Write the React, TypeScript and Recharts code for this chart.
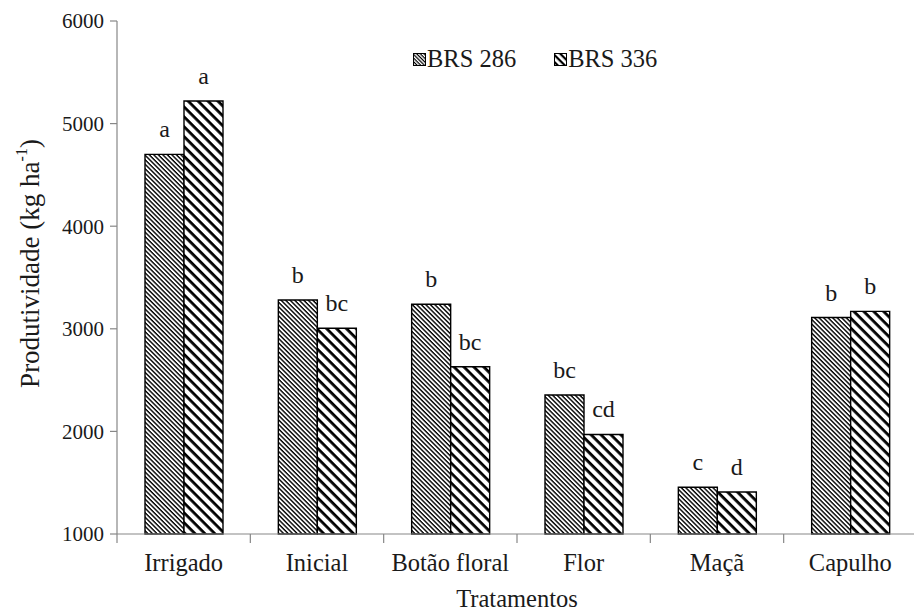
import React from 'react'
import { BarChart, Bar, XAxis, YAxis, Legend, LabelList, Label } from 'recharts'

const categories = ['Irrigado', 'Inicial', 'Botão floral', 'Flor', 'Maçã', 'Capulho']
const brs286 = [4700, 3280, 3240, 2355, 1455, 3110]
const brs336 = [5220, 3005, 2630, 1970, 1410, 3170]
const letters286 = ['a', 'b', 'b', 'bc', 'c', 'b']
const letters336 = ['a', 'bc', 'bc', 'cd', 'd', 'b']
const yTicks = [1000, 2000, 3000, 4000, 5000, 6000]

const data = categories.map((name, i) => ({
  name,
  brs286: brs286[i],
  brs336: brs336[i],
  l286: letters286[i],
  l336: letters336[i],
}))

const FONT = '"Liberation Serif", "Times New Roman", serif'
const AXIS = '#878787'
const INK = '#1a1a1a'

// category labels, with Excel-style tick marks on the category edges
const CategoryTick = (props: any) => {
  const { x, y, payload, index, visibleTicksCount } = props
  const half = payload.offset ?? 0
  return (
    <g>
      <line x1={x - half} x2={x - half} y1={y} y2={y + 9} stroke={AXIS} strokeWidth={1.2} />
      {index === visibleTicksCount - 1 && (
        <line x1={x + half} x2={x + half} y1={y} y2={y + 9} stroke={AXIS} strokeWidth={1.2} />
      )}
      <text x={x} y={y + 37} textAnchor="middle" fontFamily={FONT} fontSize={24.5} fill={INK}>
        {payload.value}
      </text>
    </g>
  )
}

const YTitle = (props: any) => {
  const { viewBox } = props
  const cx = viewBox.x + 30
  const cy = viewBox.y + viewBox.height / 2 - 14
  return (
    <text
      x={cx}
      y={cy}
      transform={`rotate(-90, ${cx}, ${cy})`}
      textAnchor="middle"
      dominantBaseline="central"
      fontFamily={FONT}
      fontSize={27}
      fill={INK}
    >
      Produtividade (kg ha<tspan baselineShift="super" fontSize={16}>-1</tspan>)
    </text>
  )
}

const LegendBox = () => (
  <div style={{ display: 'flex', gap: 38, fontFamily: FONT, fontSize: 24.5, color: INK, lineHeight: '26px' }}>
    {[
      { id: 'p286', label: 'BRS 286' },
      { id: 'p336', label: 'BRS 336' },
    ].map((it) => (
      <div key={it.id} style={{ display: 'flex', alignItems: 'center' }}>
        <svg width={13} height={13} style={{ marginRight: 1 }}>
          <rect x={0.5} y={0.5} width={12} height={12} fill={`url(#${it.id}s)`} stroke="#000" strokeWidth={1} />
        </svg>
        <span>{it.label}</span>
      </div>
    ))}
  </div>
)

export default function App() {
  return (
    <div style={{ position: 'absolute', left: 0, top: 0, width: 914, height: 611, overflow: 'hidden', background: '#fff' }}>
      <BarChart
        width={930}
        height={611}
        data={data}
        margin={{ top: 21, right: 13, bottom: 0, left: 0 }}
        barGap={0}
        barSize={39}
      >
        <defs>
          <pattern id="p286" patternUnits="userSpaceOnUse" width={3.2} height={3.2} patternTransform="rotate(45)">
            <rect x={0} y={0} width={3.2} height={3.2} fill="#fff" />
            <rect x={0} y={0} width={3.2} height={1.4} fill="#000" />
          </pattern>
          <pattern id="p336" patternUnits="userSpaceOnUse" width={7} height={7} patternTransform="rotate(45)">
            <rect x={0} y={0} width={7} height={7} fill="#fff" />
            <rect x={0} y={0} width={7} height={2.8} fill="#000" />
          </pattern>
          <pattern id="p286s" patternUnits="userSpaceOnUse" width={2.6} height={2.6} patternTransform="rotate(45)">
            <rect x={0} y={0} width={2.6} height={2.6} fill="#fff" />
            <rect x={0} y={0} width={2.6} height={1.2} fill="#000" />
          </pattern>
          <pattern id="p336s" patternUnits="userSpaceOnUse" width={5} height={5} patternTransform="rotate(45)">
            <rect x={0} y={0} width={5} height={5} fill="#fff" />
            <rect x={0} y={0} width={5} height={2.2} fill="#000" />
          </pattern>
        </defs>
        <XAxis
          dataKey="name"
          height={77}
          axisLine={{ stroke: AXIS, strokeWidth: 1.2 }}
          tickLine={false}
          tickSize={0}
          tickMargin={0}
          interval={0}
          tick={<CategoryTick />}
        >
          <Label
            value="Tratamentos"
            position="insideBottom"
            offset={4}
            style={{ fontFamily: FONT, fontSize: 24.5, fill: INK }}
          />
        </XAxis>
        <YAxis
          width={117}
          domain={[1000, 6000]}
          ticks={yTicks}
          interval={0}
          axisLine={{ stroke: AXIS, strokeWidth: 1.2 }}
          tickLine={{ stroke: AXIS, strokeWidth: 1.2 }}
          tickSize={7}
          tickMargin={6}
          tick={{ fontFamily: FONT, fontSize: 21, fill: INK }}
        >
          <Label content={<YTitle />} />
        </YAxis>
        <Legend
          layout="vertical"
          align="center"
          verticalAlign="middle"
          wrapperStyle={{ left: 413, top: 46, width: 'auto' }}
          content={<LegendBox />}
        />
        <Bar dataKey="brs286" name="BRS 286" fill="url(#p286)" stroke="#000" strokeWidth={1.4} isAnimationActive={false}>
          <LabelList dataKey="l286" position="top" offset={17} style={{ fontFamily: FONT, fontSize: 24, fill: INK }} />
        </Bar>
        <Bar dataKey="brs336" name="BRS 336" fill="url(#p336)" stroke="#000" strokeWidth={1.4} isAnimationActive={false}>
          <LabelList dataKey="l336" position="top" offset={17} style={{ fontFamily: FONT, fontSize: 24, fill: INK }} />
        </Bar>
      </BarChart>
    </div>
  )
}
